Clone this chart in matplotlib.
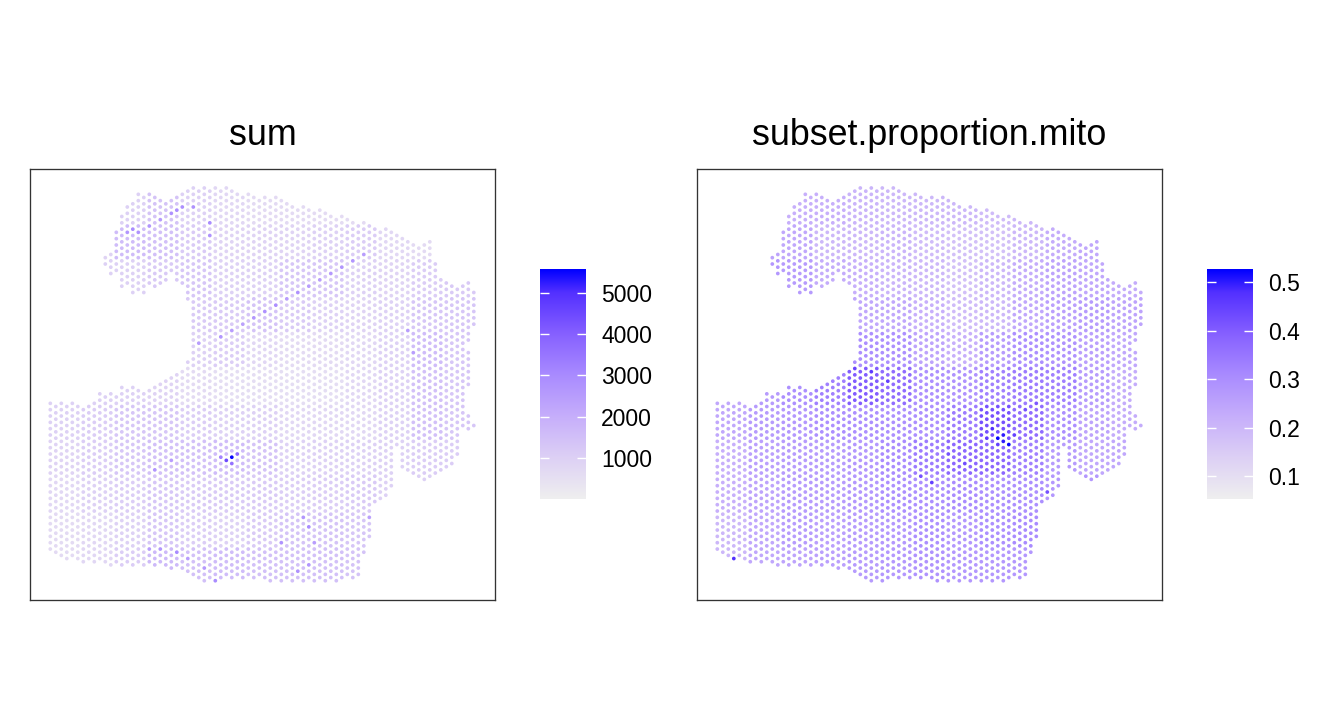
import numpy as np
import matplotlib
matplotlib.use("Agg")
import matplotlib.pyplot as plt
from matplotlib.colors import LinearSegmentedColormap

plt.rcParams['font.family'] = ['Liberation Sans', 'DejaVu Sans']

TITLES = ["sum", "subset.proportion.mito"]

# Tissue extent per spot column: (top, bottom) spatial y, one or more spans
COLUMN_SPANS = [
    [(403, 548)], [(406, 552)], [(403, 555)], [(406, 558)], [(403, 555)], [(406, 558)],
    [(409, 562)], [(406, 558)], [(403, 562)], [(393, 558)],
    [(257, 264), (397, 562)], [(254, 273), (393, 565)], [(232, 270), (393, 562)],
    [(216, 286), (387, 565)], [(207, 283), (390, 562)], [(204, 292), (387, 565)],
    [(194, 289), (390, 562)], [(198, 292), (393, 565)], [(194, 286), (390, 562)],
    [(198, 286), (387, 565)], [(201, 283), (383, 562)], [(204, 280), (381, 564)],
    [(201, 274), (378, 568)], [(198, 280), (375, 564)], [(194, 283), (372, 568)],
    [(191, 299), (362, 571)],
    [(188, 573)], [(191, 577)], [(188, 580)], [(191, 577)], [(188, 580)], [(191, 580)],
    [(188, 577)], [(191, 580)], [(194, 577)], [(198, 580)], [(194, 577)], [(198, 580)],
    [(201, 577)], [(197, 577)], [(201, 580)], [(197, 577)], [(201, 580)], [(204, 577)],
    [(207, 580)], [(210, 577)], [(207, 580)], [(210, 577)], [(213, 580)], [(210, 577)],
    [(213, 580)], [(216, 577)], [(220, 580)], [(216, 580)], [(220, 579)], [(223, 577)],
    [(226, 573)], [(223, 552)], [(226, 536)], [(229, 501)], [(232, 498)], [(229, 495)],
    [(232, 485)], [(236, 444)], [(239, 469)], [(242, 473)], [(245, 473)], [(248, 476)],
    [(245, 479)], [(242, 476)], [(264, 473)], [(280, 469)], [(283, 466)], [(286, 463)],
    [(289, 454)], [(286, 428)], [(283, 340), (353, 384), (415, 428)], [(292, 324), (425, 425)],
]

# Regional estimates: rows run top to bottom, columns left to right
SUM_REGIONS = [
    [900, 900, 1000, 1400, 1000, 800, 700, 700, 650, 650, 600, 600, 600],
    [900, 900, 1600, 1500, 1200, 900, 900, 900, 1000, 1100, 800, 700, 700],
    [1000, 1000, 1000, 1200, 1300, 1000, 1000, 1300, 1300, 1000, 900, 1100, 1200],
    [1000, 1000, 1000, 1200, 1200, 1200, 1400, 1200, 1000, 900, 1000, 1300, 1300],
    [1000, 1000, 1000, 1000, 1000, 1100, 800, 700, 700, 800, 1000, 1600, 1300],
    [1000, 1000, 1000, 900, 700, 600, 600, 600, 600, 800, 1000, 1500, 1300],
    [1000, 1100, 1300, 1300, 1100, 1000, 1000, 800, 800, 800, 1000, 1500, 1300],
    [900, 1100, 1300, 1500, 1500, 1600, 1400, 1000, 1000, 1000, 1000, 1100, 1100],
    [800, 1000, 1100, 1300, 1200, 1200, 1200, 1100, 1100, 1200, 1000, 1000, 1000],
    [700, 800, 1000, 1300, 1100, 1000, 1200, 1400, 1400, 1300, 1000, 1000, 1000],
    [700, 800, 1100, 1700, 1500, 1600, 1500, 1500, 1500, 1400, 1000, 1000, 1000],
]
MITO_REGIONS = [
    [.22, .22, .22, .22, .21, .20, .20, .20, .19, .20, .22, .22, .22],
    [.25, .25, .24, .20, .20, .21, .19, .18, .18, .20, .23, .24, .20],
    [.28, .28, .27, .23, .22, .21, .20, .18, .20, .23, .25, .24, .23],
    [.24, .24, .24, .24, .24, .24, .22, .19, .20, .24, .26, .27, .25],
    [.30, .30, .30, .30, .30, .30, .25, .22, .27, .30, .29, .26, .24],
    [.24, .27, .30, .33, .40, .37, .30, .29, .33, .34, .33, .27, .23],
    [.24, .27, .28, .30, .30, .30, .30, .34, .42, .37, .30, .25, .23],
    [.22, .26, .27, .27, .28, .31, .34, .38, .38, .33, .27, .24, .24],
    [.22, .25, .27, .27, .28, .30, .30, .31, .30, .30, .28, .28, .28],
    [.20, .24, .27, .26, .27, .28, .30, .28, .30, .31, .28, .28, .28],
    [.20, .24, .25, .26, .27, .28, .29, .28, .28, .28, .28, .28, .28],
]

# Individually visible spots: (column, spatial y, value)
SUM_SPOTS = [
    (33, 457, 5500), (32, 460, 4500), (34, 455, 3800), (33, 463, 3600), (31, 455, 3200),
    (14, 235, 2700), (15, 232, 3000), (16, 231, 2800), (18, 225, 2700), (20, 220, 2600),
    (22, 215, 2800), (23, 213, 2900), (24, 210, 2900), (26, 207, 2800),
    (29, 225, 3000), (29, 235, 2800),
    (31, 340, 2700), (33, 333, 2500), (35, 327, 2400), (37, 320, 2700), (39, 313, 2800),
    (41, 307, 2900), (43, 300, 2500), (45, 293, 2800), (47, 287, 2500), (49, 280, 2500),
    (51, 273, 2600), (53, 267, 2700), (55, 260, 2700), (57, 253, 2500),
    (47, 525, 3000), (46, 519, 2700), (23, 553, 3000), (20, 550, 2700), (30, 578, 3000),
    (45, 570, 2800), (47, 565, 2700), (42, 540, 2800), (19, 470, 2700), (22, 460, 2500),
    (65, 331, 2500), (66, 350, 2500), (27, 346, 2500), (28, 570, 2600), (58, 520, 2400),
    (18, 548, 2500), (25, 558, 2500), (48, 540, 2500),
]
MITO_SPOTS = [
    (51, 437, 0.52), (52, 442, 0.50), (53, 447, 0.52), (50, 431, 0.48), (49, 440, 0.46),
    (54, 434, 0.45), (52, 434, 0.50), (51, 447, 0.45), (3, 558, 0.48), (28, 372, 0.46),
    (31, 380, 0.45), (25, 370, 0.44), (39, 481, 0.45), (37, 478, 0.42), (60, 490, 0.42),
    (45, 462, 0.43), (42, 454, 0.42), (56, 412, 0.42), (58, 402, 0.41),
]

SUM_TICKS = [1000, 2000, 3000, 4000, 5000]
MITO_TICKS = [0.1, 0.2, 0.3, 0.4, 0.5]
SUM_RANGE = (5, 5580)
MITO_RANGE = (0.0526, 0.527)

CMAP_STOPS = [(0, "#EFEFEF"), (.18, "#DDD0F5"), (.36, "#C6AEFB"), (.54, "#A98BFF"),
              (.72, "#8660FF"), (.90, "#5330FF"), (1, "#0000FF")]
cmap = LinearSegmentedColormap.from_list("spots", CMAP_STOPS)

W, H = 1344, 720
fig = plt.figure(figsize=(W / 100, H / 100), dpi=100)


def px_axes(x0, y0, x1, y1):
    return fig.add_axes([x0 / W, 1 - y1 / H, (x1 - x0) / W, (y1 - y0) / H])


# spot lattice
ROW_ORIGIN, ROW_STEP = 188.0, 3.167
col_idx, row_y = [], []
for c, spans in enumerate(COLUMN_SPANS):
    for top, bot in spans:
        k0 = int(np.ceil((top - 1.6 - ROW_ORIGIN) / ROW_STEP))
        k1 = int(np.floor((bot + 1.6 - ROW_ORIGIN) / ROW_STEP))
        for k in range(k0, k1 + 1):
            if (k + c) % 2 == 0:
                col_idx.append(c)
                row_y.append(ROW_ORIGIN + k * ROW_STEP)
col_idx = np.array(col_idx)
row_y = np.array(row_y)


def spot_values(regions, spots):
    table = np.array(regions, dtype=float)
    i = np.clip(col_idx // 6, 0, table.shape[1] - 1)
    j = np.clip(((row_y - ROW_ORIGIN) // 36).astype(int), 0, table.shape[0] - 1)
    vals = table[j, i]
    for c, y, v in spots:
        d = (col_idx - c) ** 2 * 30.25 + (row_y - y) ** 2
        vals[np.argmin(d)] = v
    return vals


panels = [
    (30, 540, 601, SUM_REGIONS, SUM_SPOTS, SUM_TICKS, SUM_RANGE, [str(t) for t in SUM_TICKS]),
    (697, 1207, 1268, MITO_REGIONS, MITO_SPOTS, MITO_TICKS, MITO_RANGE, [f"{t:.1f}" for t in MITO_TICKS]),
]

for title, (x0, cx0, lx, regions, spots, ticks, rng, labels) in zip(TITLES, panels):
    ax = px_axes(x0, 169, x0 + 465, 600)
    vals = spot_values(regions, spots)
    order = np.argsort(vals)
    ax.scatter(col_idx[order], row_y[order], c=vals[order], cmap=cmap, vmin=rng[0], vmax=rng[1],
               s=7.2, marker='o', linewidths=0)
    ax.set_xlim(-(20.3 / 5.5), (465 - 20.3) / 5.5)
    ax.set_ylim(600, 169)
    ax.set_xticks([])
    ax.set_yticks([])
    for s in ax.spines.values():
        s.set_color("#333333")
        s.set_linewidth(0.95)
    ax.text(0.5, 1 + (169 - 135.5) / 431, title, transform=ax.transAxes, fontsize=25.8,
            ha="center", va="center", color="black")

    cax = px_axes(cx0, 269, cx0 + 46, 499)
    grad = np.linspace(1, 0, 256).reshape(-1, 1)
    cax.imshow(grad, cmap=cmap, vmin=0, vmax=1, aspect='auto', extent=[0, 1, rng[0], rng[1]])
    for t in ticks:
        cax.plot([0, 0.2], [t, t], color="white", lw=1.0, solid_capstyle='butt')
        cax.plot([0.8, 1], [t, t], color="white", lw=1.0, solid_capstyle='butt')
    cax.set_xlim(0, 1)
    cax.set_ylim(rng)
    cax.set_xticks([])
    cax.yaxis.tick_right()
    cax.set_yticks(ticks)
    cax.set_yticklabels(labels, fontsize=16.5)
    cax.tick_params(axis='y', length=0, pad=(lx - cx0 - 46) * 0.72)
    for s in cax.spines.values():
        s.set_visible(False)

fig.savefig("out.png", dpi=100, facecolor="white")
